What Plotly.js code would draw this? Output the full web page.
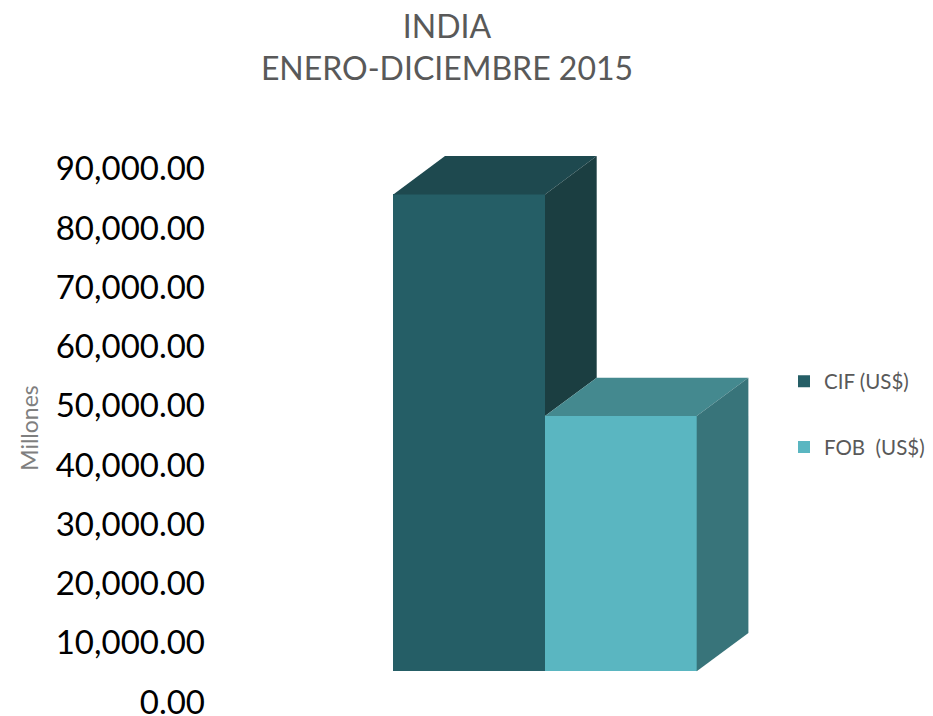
<!DOCTYPE html>
<html>
<head>
<meta charset="utf-8">
<script src="https://cdn.plot.ly/plotly-3.0.1.min.js"></script>
<style>html,body{margin:0;padding:0;background:#fff;}#chart{width:933px;height:716px;}</style>
</head>
<body>
<div id="chart"></div>
<script>
// ---- data ----
const categories = ['INDIA'];
const seriesNames = ['CIF (US$)', 'FOB \u00a0(US$)'];
const cifValues = [80500];
const fobValues = [43100];
const yTickValues = [0, 10000, 20000, 30000, 40000, 50000, 60000, 70000, 80000, 90000];
const yTickLabels = ['0.00', '10,000.00', '20,000.00', '30,000.00', '40,000.00', '50,000.00',
                     '60,000.00', '70,000.00', '80,000.00', '90,000.00'];

// ---- styling ----
const frontColors = ['#255E66', '#5AB6C1'];
const topColors = ['#1E494F', '#44898F'];
const sideColors = ['#1B3E41', '#38747A'];
const W = 933, H = 716;
const M = {l: 210, r: 173, t: 143.7, b: 4.3};
const plotW = W - M.l - M.r, plotH = H - M.t - M.b;
const pxPerY = 548 / 92500;      // vertical scale (px per unit)
const floorOffsetPx = 30.7;      // bars' front floor sits above the axis (3D floor depth)
const bottomPadPx = 10;          // plot-area room below the axis zero
const yShift = floorOffsetPx / pxPerY;
const yLow = -yShift - bottomPadPx / pxPerY;
const yRange = [yLow, yLow + plotH / pxPerY];
const barPx = 151.7;             // pixel width of one bar
const groupCenterPx = 545 - M.l; // pixel position of category centre
const nSeries = seriesNames.length;
const barW = 1 / nSeries;        // bargap 0
const pxPerX = barPx / barW;
const xMin = -groupCenterPx / pxPerX;
const xRange = [xMin, xMin + plotW / pxPerX];
const depthX = 51.7 / pxPerX;
const depthY = 38.3 / pxPerY;

const seriesValues = [cifValues, fobValues];
const traces = [];
seriesNames.forEach((name, i) => {
  traces.push({
    type: 'bar', name: name, x: categories.map((c, k) => k), y: seriesValues[i],
    legendgroup: 'g' + i,
    marker: {color: frontColors[i], line: {width: 0}}, hoverinfo: 'skip'
  });
});
// 3D faces (top and side) computed from data
categories.forEach((c, k) => {
  seriesNames.forEach((name, i) => {
    const v = seriesValues[i][k];
    const x0 = k - 0.5 + i * barW, x1 = x0 + barW;
    traces.push({
      type: 'scatter', mode: 'lines', fill: 'toself', fillcolor: topColors[i],
      line: {width: 0, color: topColors[i]}, showlegend: false, hoverinfo: 'skip',
      x: [x0, x1, x1 + depthX, x0 + depthX, x0],
      y: [v, v, v + depthY, v + depthY, v]
    });
    const nextV = (i + 1 < nSeries) ? seriesValues[i + 1][k] : 0;
    const lo = Math.min(nextV, v);
    traces.push({
      type: 'scatter', mode: 'lines', fill: 'toself', fillcolor: sideColors[i],
      line: {width: 0, color: sideColors[i]}, showlegend: false, hoverinfo: 'skip',
      x: [x1, x1, x1 + depthX, x1 + depthX, x1],
      y: [lo, v, v + depthY, lo + depthY, lo]
    });
  });
});

const layout = {
  width: W, height: H, margin: M,
  paper_bgcolor: '#ffffff', plot_bgcolor: 'rgba(0,0,0,0)',
  font: {family: 'Lato, sans-serif', color: '#595959'},
  title: {
    text: 'INDIA<br>ENERO-DICIEMBRE 2015',
    font: {family: 'Lato, sans-serif', size: 32, color: '#595959'},
    x: 447 / W, xref: 'container', xanchor: 'center',
    y: 0.947, yref: 'container', yanchor: 'top'
  },
  barmode: 'group', bargap: 0, bargroupgap: 0,
  showlegend: true,
  legend: {
    xref: 'container', yref: 'container',
    x: 784 / W, xanchor: 'left', y: 1 - 414.5 / H, yanchor: 'middle',
    font: {family: 'Lato, sans-serif', size: 20.5, color: '#595959'},
    tracegroupgap: 36, bgcolor: 'rgba(0,0,0,0)'
  },
  xaxis: {range: xRange, visible: false, fixedrange: true},
  yaxis: {
    range: yRange,
    tickmode: 'array',
    tickvals: yTickValues.map(v => v - yShift), ticktext: yTickLabels,
    ticklabelstandoff: 4, ticklabeloverflow: 'allow',
    showgrid: false, zeroline: false, showline: false, ticks: '',
    tickfont: {family: 'Lato, sans-serif', size: 33, color: '#000000'},
    title: {text: 'Millones', font: {family: 'Lato, sans-serif', size: 23, color: '#7f7f7f'}, standoff: 10},
    fixedrange: true
  }
};
Plotly.newPlot('chart', traces, layout, {displayModeBar: false, staticPlot: true});
</script>
</body>
</html>
